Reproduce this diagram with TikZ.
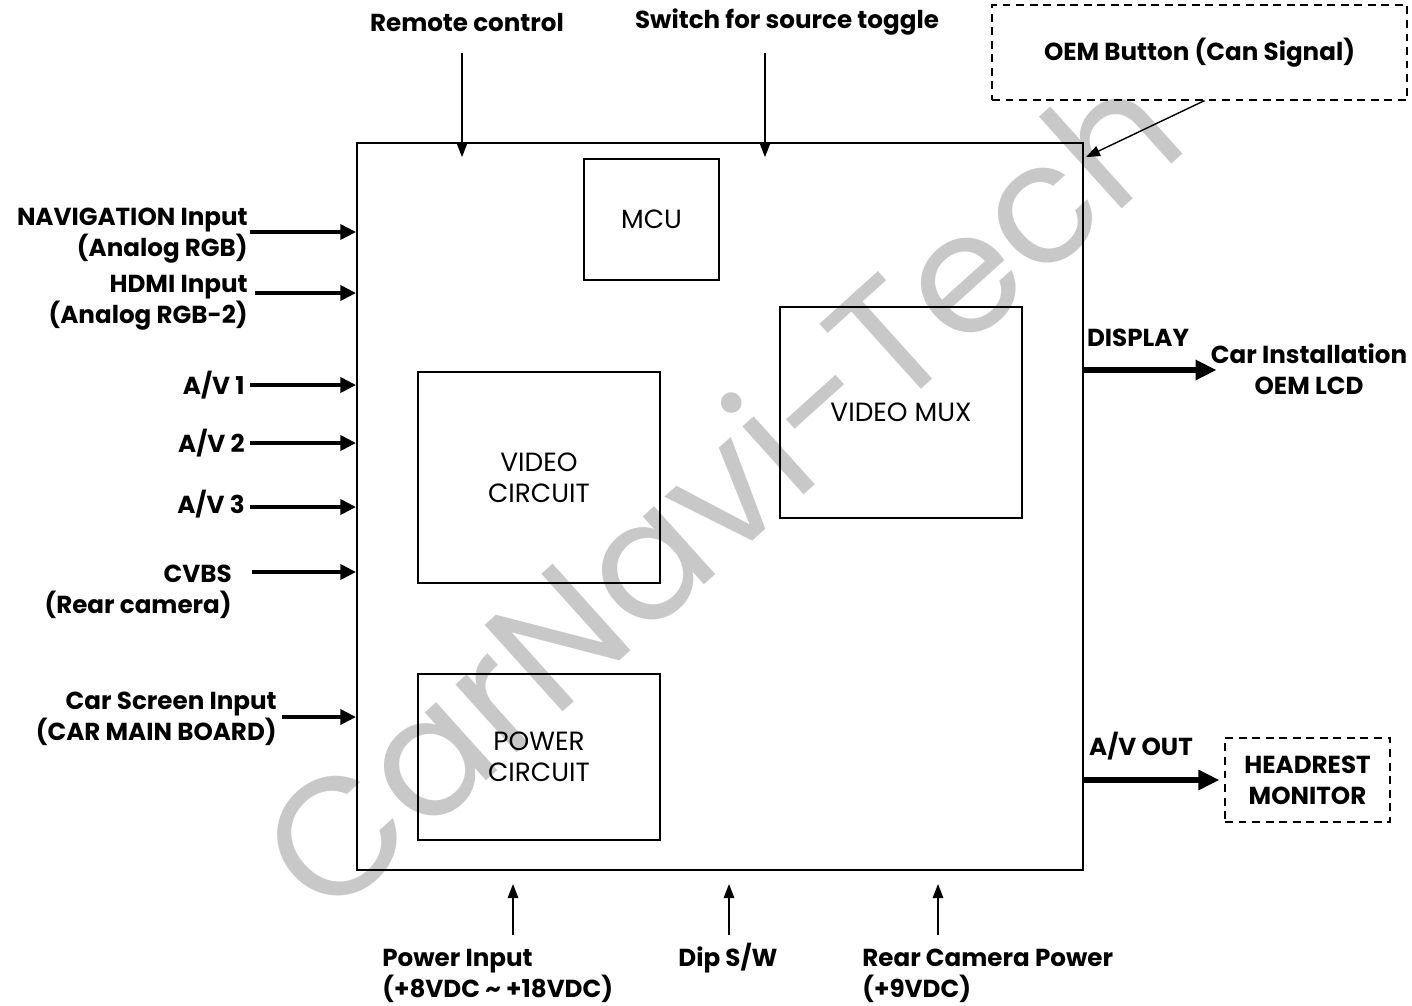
\documentclass[tikz,border=0pt]{standalone}
\usepackage{fontspec}
\setmainfont{Poppins}
\usetikzlibrary{positioning,arrows.meta,backgrounds}
\definecolor{wmark}{RGB}{200,200,200}

\tikzset{
  lbl/.style={font=\bfseries\fontsize{14}{17.6}\selectfont, inner sep=0pt},
  blk/.style={draw, line width=0.9pt, font=\fontsize{15}{17.6}\selectfont, align=center, inner sep=0pt},
  dashbox/.style={draw, line width=0.7pt, dash pattern=on 4.5pt off 3.2pt, font=\bfseries\fontsize{14}{17.6}\selectfont, align=center, inner sep=0pt},
  inarr/.style={line width=2.3pt, -{Triangle[length=9pt,width=8.5pt]}},
  outarr/.style={line width=3.2pt, -{Triangle[length=12pt,width=11pt]}},
  thinarr/.style={line width=0.8pt, -{Triangle[length=8pt,width=6pt]}}
}

\begin{document}
\begin{tikzpicture}[x=0.02cm,y=-0.02cm]
  \useasboundingbox (0,0) rectangle (1412,1005);
  % main unit and inner blocks
  \node[blk, line width=1.1pt, minimum width=14.52cm, minimum height=14.54cm] (main) at (720,506.5) {};
  \node[blk, minimum width=2.7cm, minimum height=2.42cm] (mcu) at (651.5,219.5) {MCU};
  \node[blk, minimum width=4.84cm, minimum height=4.22cm] (mux) at (901,412.5) {VIDEO MUX};
  \node[blk, minimum width=4.84cm, minimum height=4.22cm] (vcirc) at (539,477.5) {VIDEO\\CIRCUIT};
  \node[blk, minimum width=4.84cm, minimum height=3.32cm] (pcirc) at (539,757) {POWER\\CIRCUIT};
  % watermark
  \begin{scope}[on background layer]
    \node[text=wmark, rotate=42, font=\fontsize{95}{100}\selectfont, inner sep=0pt] (wm) at (718,488) {CarNavi-Tech};
  \end{scope}
  % left inputs
  \node[lbl, align=right, anchor=north east] (navlbl) at (248,208) {NAVIGATION Input\\(Analog RGB)};
  \node[lbl, align=right, anchor=north east] (hdmilbl) at (248,275) {HDMI Input\\(Analog RGB-2)};
  \node[lbl, anchor=east] (av1lbl) at (245,385) {A/V 1};
  \node[lbl, anchor=east] (av2lbl) at (245,443) {A/V 2};
  \node[lbl, anchor=east] (av3lbl) at (245,504) {A/V 3};
  \node[lbl, align=right, anchor=north east] (cvbslbl) at (232,565) {CVBS\\(Rear camera)};
  \node[lbl, align=right, anchor=north east] (carlbl) at (277,692) {Car Screen Input\\(CAR MAIN BOARD)};
  \coordinate (navs) at (250,232);
  \coordinate (hdmis) at (255,293);
  \coordinate (cvbss) at (252,572);
  \coordinate (cars) at (282,717);
  \draw[inarr] (navs) -- (navs -| main.west);
  \draw[inarr] (hdmis) -- (hdmis -| main.west);
  \foreach \src/\yy in {av1lbl/385,av2lbl/443,av3lbl/507}
    \draw[inarr] ([xshift=0.1cm]\src.east |- 0,\yy) -- (main.west |- 0,\yy);
  \draw[inarr] (cvbss) -- (cvbss -| main.west);
  \draw[inarr] (cars) -- (cars -| main.west);
  % top inputs
  \node[lbl] (remote) at (467,22) {Remote control};
  \node[lbl] (switch) at (787,22) {Switch for source toggle};
  \coordinate (rems) at (462,53);
  \coordinate (sws) at (765,53);
  \draw[thinarr] (rems) -- ([yshift=-0.3cm]rems |- main.north);
  \draw[thinarr] (sws) -- ([yshift=-0.3cm]sws |- main.north);
  \node[dashbox, minimum width=8.3cm, minimum height=1.9cm] (oem) at (1199.5,52.5) {OEM Button (Can Signal)};
  \draw[thinarr] (oem.south) ++(5,0) -- ([xshift=0.04cm,yshift=-0.3cm]main.north east);
  % right outputs
  \node[lbl] (disp) at (1138,338) {DISPLAY};
  \node[lbl, align=center] (lcd) at (1309,369) {Car Installation\\OEM LCD};
  \draw[outarr] (main.east |- 0,370) -- ([xshift=0.12cm]lcd.west |- 0,370);
  \node[lbl] (avout) at (1141,746) {A/V OUT};
  \node[dashbox, minimum width=3.3cm, minimum height=1.68cm] (head) at (1307.5,780) {HEADREST\\MONITOR};
  \draw[outarr] (main.east |- head.west) -- ([xshift=-0.1cm]head.west);
  % bottom inputs
  \node[lbl, align=left, anchor=north west] (pwr) at (382,949) {Power Input\\(+8VDC \textasciitilde{} +18VDC)};
  \node[lbl] (dip) at (728,958) {Dip S/W};
  \node[lbl, align=left, anchor=north west] (rcam) at (862,949) {Rear Camera Power\\(+9VDC)};
  \foreach \xx in {513,729,938}
    \draw[thinarr] (\xx,935) -- (\xx,884);
\end{tikzpicture}
\end{document}
